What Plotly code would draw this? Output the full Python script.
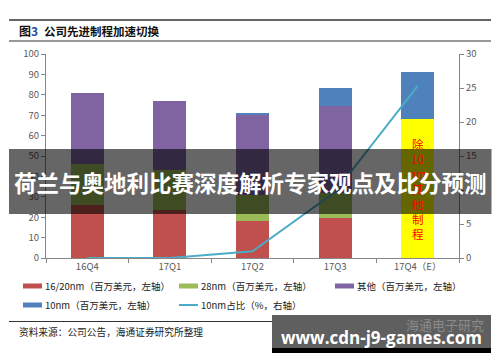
import plotly.graph_objects as go

categories = ["16Q4", "17Q1", "17Q2", "17Q3", "17Q4（E）"]
nm16_20 = [26.1, 23.3, 18.0, 19.6, None]
nm28 = [20.0, 19.9, 13.0, 12.2, None]
other = [34.8, 33.6, 39.3, 42.9, None]
other_excl10 = [None, None, None, None, 67.9]
nm10 = [None, None, 0.7, 8.5, 23.4]
nm10_share = [0, 0, 1.0, 9.7, 25.3]

series_names = ["16/20nm（百万美元，左轴）", "28nm（百万美元，左轴）", "其他（百万美元，左轴）",
                "10nm（百万美元，左轴）", "10nm占比（%，右轴）"]

# layout geometry (px)
W, H = 500, 362
ML, MR, MT, MB = 46, 41, 54, 104
PW = W - ML - MR
PH = H - MT - MB


def px(x):
    return (x - ML) / PW


def py(y):
    return (H - MB - y) / PH


FONT = "Noto Sans CJK SC"
GRAY = "#868686"
TICK = "#595959"
C_RED, C_GREEN, C_PURPLE, C_BLUE, C_LINE = "#C0504D", "#9BBB59", "#8064A2", "#4F81BD", "#4BACC6"

fig = go.Figure()
fig.add_trace(go.Bar(x=categories, y=nm16_20, name=series_names[0],
                     marker=dict(color=C_RED, line=dict(width=0))))
fig.add_trace(go.Bar(x=categories, y=nm28, name=series_names[1],
                     marker=dict(color=C_GREEN, line=dict(width=0))))
fig.add_trace(go.Bar(x=categories, y=other, name=series_names[2],
                     marker=dict(color=C_PURPLE, line=dict(width=0))))
fig.add_trace(go.Bar(x=categories, y=other_excl10, name="除10nm其他制程",
                     marker=dict(color="#FFFF00", line=dict(width=0))))
fig.add_trace(go.Bar(x=categories, y=nm10, name=series_names[3],
                     marker=dict(color=C_BLUE, line=dict(width=0))))
fig.add_trace(go.Scatter(x=categories, y=nm10_share, name=series_names[4],
                         mode="lines", line=dict(color=C_LINE, width=2), yaxis="y2"))

axis_common = dict(showline=True, linecolor=GRAY, linewidth=1, ticks="outside",
                   ticklen=4, tickcolor=GRAY, showgrid=False, zeroline=False,
                   tickfont=dict(family=FONT, size=9.5, color=TICK))

fig.update_layout(
    width=W, height=H,
    margin=dict(l=ML, r=MR, t=MT, b=MB, pad=0),
    paper_bgcolor="white", plot_bgcolor="white",
    barmode="stack", bargap=0.6, showlegend=False,
    font=dict(family=FONT, color="#222"),
    xaxis=dict(**axis_common, tickson="boundaries", type="category"),
    yaxis=dict(**axis_common, range=[0, 100], dtick=10),
    yaxis2=dict(**axis_common, range=[0, 30], dtick=5, overlaying="y", side="right"),
)

shapes = []
ann = []
# title rules
for yy, lw in [(20, 1.5), (41, 1), (321.5, 1)]:
    shapes.append(dict(type="line", xref="paper", yref="paper", x0=px(9), x1=px(491),
                       y0=py(yy), y1=py(yy), line=dict(color="#333", width=lw)))

# legend (manual)
legend_items = [(23, 286, series_names[0], C_RED, "bar"),
                (179, 286, series_names[1], C_GREEN, "bar"),
                (335, 286, series_names[2], C_PURPLE, "bar"),
                (23, 305, series_names[3], C_BLUE, "bar"),
                (179, 305, series_names[4], C_LINE, "line")]
for lx, ly, name, col, kind in legend_items:
    if kind == "bar":
        shapes.append(dict(type="rect", xref="paper", yref="paper",
                           x0=px(lx), x1=px(lx + 19), y0=py(ly - 2.5), y1=py(ly + 2.5),
                           fillcolor=col, line=dict(width=0)))
    else:
        shapes.append(dict(type="line", xref="paper", yref="paper",
                           x0=px(lx), x1=px(lx + 19), y0=py(ly), y1=py(ly),
                           line=dict(color=col, width=2)))
    ann.append(dict(xref="paper", yref="paper", x=px(lx + 19.5), y=py(ly), xanchor="left",
                    yanchor="middle", text=name, showarrow=False,
                    font=dict(family=FONT, size=9.5, color="#222")))

# overlay banner
shapes.append(dict(type="rect", xref="paper", yref="paper", layer="above",
                   x0=px(9), x1=px(491.5), y0=py(149), y1=py(214),
                   fillcolor="rgba(0,0,0,0.6)", line=dict(width=0)))
# watermark box
shapes.append(dict(type="rect", xref="paper", yref="paper", layer="above",
                   x0=px(272), x1=px(491), y0=py(315), y1=py(348),
                   fillcolor="#5f5f5f", line=dict(width=0)))
shapes.append(dict(type="rect", xref="paper", yref="paper", layer="above",
                   x0=px(272), x1=px(491), y0=py(348), y1=py(353),
                   fillcolor="#000000", line=dict(width=0)))
fig.update_layout(shapes=shapes)

ann.append(dict(xref="paper", yref="paper", x=px(17), y=py(31), xanchor="left", yanchor="middle",
                text="<b>图<span style='color:#1f4e9c'>3</span></b>", showarrow=False,
                font=dict(family=FONT, size=12, color="#111")))
ann.append(dict(xref="paper", yref="paper", x=px(42), y=py(31), xanchor="left", yanchor="middle",
                text="<b>公司先进制程加速切换</b>", showarrow=False,
                font=dict(family=FONT, size=11.5, color="#111")))
ann.append(dict(xref="x", yref="y", x=categories[4], y=34, xanchor="center", yanchor="middle",
                text="除<br>10<br>nm<br>其<br>他<br>制<br>程", showarrow=False,
                font=dict(family=FONT, size=11.5, color="#FF0000")))
ann.append(dict(xref="paper", yref="paper", x=px(17), y=py(332), xanchor="left", yanchor="middle",
                text="资料来源：公司公告，海通证券研究所整理", showarrow=False,
                font=dict(family=FONT, size=9.7, color="#222")))
ann.append(dict(xref="paper", yref="paper", x=px(250), y=py(182), xanchor="center", yanchor="middle",
                text="<b>荷兰与奥地利比赛深度解析专家观点及比分预测</b>", showarrow=False,
                font=dict(family=FONT, size=22.5, color="white")))
ann.append(dict(xref="paper", yref="paper", x=px(486), y=py(324), xanchor="right", yanchor="middle",
                text="海通电子研究", showarrow=False,
                font=dict(family=FONT, size=13, color="#8a8a8a")))
ann.append(dict(xref="paper", yref="paper", x=px(381), y=py(337), xanchor="center", yanchor="middle",
                text="<b>www.cdn-j9-games.com</b>", showarrow=False,
                font=dict(family="Open Sans", size=17, color="white")))
fig.update_layout(annotations=ann)

fig.write_html("out.html", config={"displayModeBar": False},
               post_script="document.body.style.margin='0';document.body.style.padding='0';")
